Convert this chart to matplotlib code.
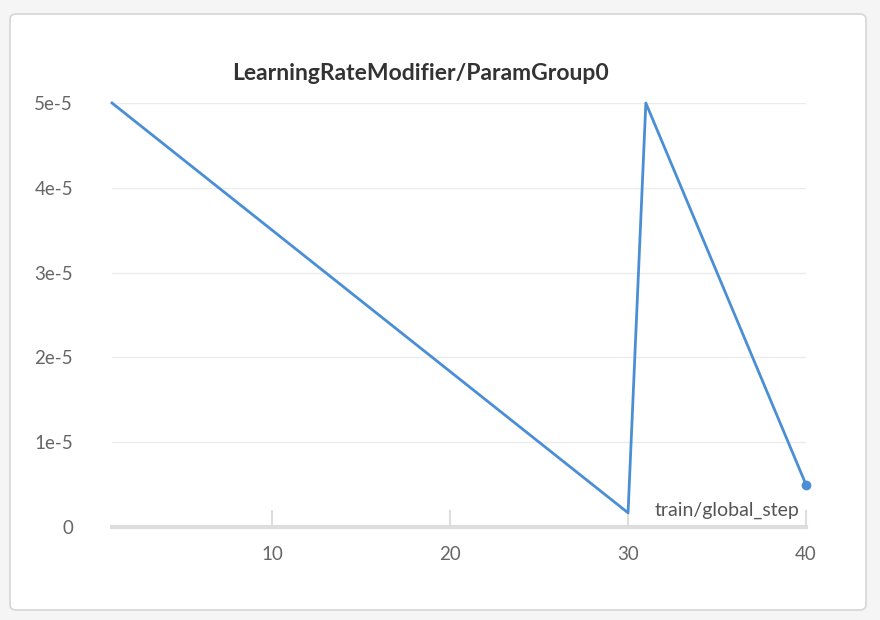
import matplotlib
matplotlib.use("Agg")
import matplotlib.pyplot as plt
from matplotlib.patches import FancyBboxPatch

steps = [1, 30, 31, 40]
lr = [5e-5, 1.67e-6, 5e-5, 5e-6]
xticks = [10, 20, 30, 40]
yticks = [0, 1e-5, 2e-5, 3e-5, 4e-5, 5e-5]
ylabels = ["0", "1e-5", "2e-5", "3e-5", "4e-5", "5e-5"]

plt.rcParams['font.family'] = ['Lato', 'DejaVu Sans']
fig = plt.figure(figsize=(8.8, 6.2), dpi=100)
fig.patch.set_facecolor('#f5f5f5')
card = FancyBboxPatch((10/880, 10/620), 856/880, 596/620, boxstyle="round,pad=0,rounding_size=0.008",
                      transform=fig.transFigure, facecolor='white', edgecolor='#d6d6d6', lw=1.2,
                      zorder=-10)
fig.patches.append(card)

ax = fig.add_axes([112/880, 1-527/620, (806-112)/880, (527-103)/620])
ax.set_zorder(5)
ax.set_facecolor('none')
ax.plot(steps, lr, color='#4a8fd6', lw=2, clip_on=False, zorder=3)
ax.plot([steps[-1]], [lr[-1]], 'o', color='#4a8fd6', ms=6, clip_on=False, zorder=4)
ax.set_xlim(1, 40)
ax.set_ylim(0, 5e-5)
ax.set_yticks(yticks)
ax.set_yticklabels(ylabels)
ax.set_xticks(xticks)
ax.grid(axis='y', color='#ececec', lw=1)
for s in ['top', 'right', 'left']:
    ax.spines[s].set_visible(False)
ax.spines['bottom'].set_color('#dddddd')
ax.spines['bottom'].set_linewidth(3)
ax.tick_params(axis='y', length=0, pad=28, labelsize=13.5, labelcolor='#666666')
ax.tick_params(axis='x', direction='in', length=12, width=1.5, color='#dddddd',
               pad=14, labelsize=13.5, labelcolor='#666666')
ax.text(0.991, 0.02, 'train/global_step', transform=ax.transAxes, ha='right', va='bottom',
        fontsize=14, color='#555555')
fig.text(0.478, 1-73/620, 'LearningRateModifier/ParamGroup0', ha='center', va='center',
         fontsize=16.5, fontweight='bold', color='#333333', zorder=6)
fig.savefig('out.png', dpi=100, facecolor=fig.get_facecolor())
